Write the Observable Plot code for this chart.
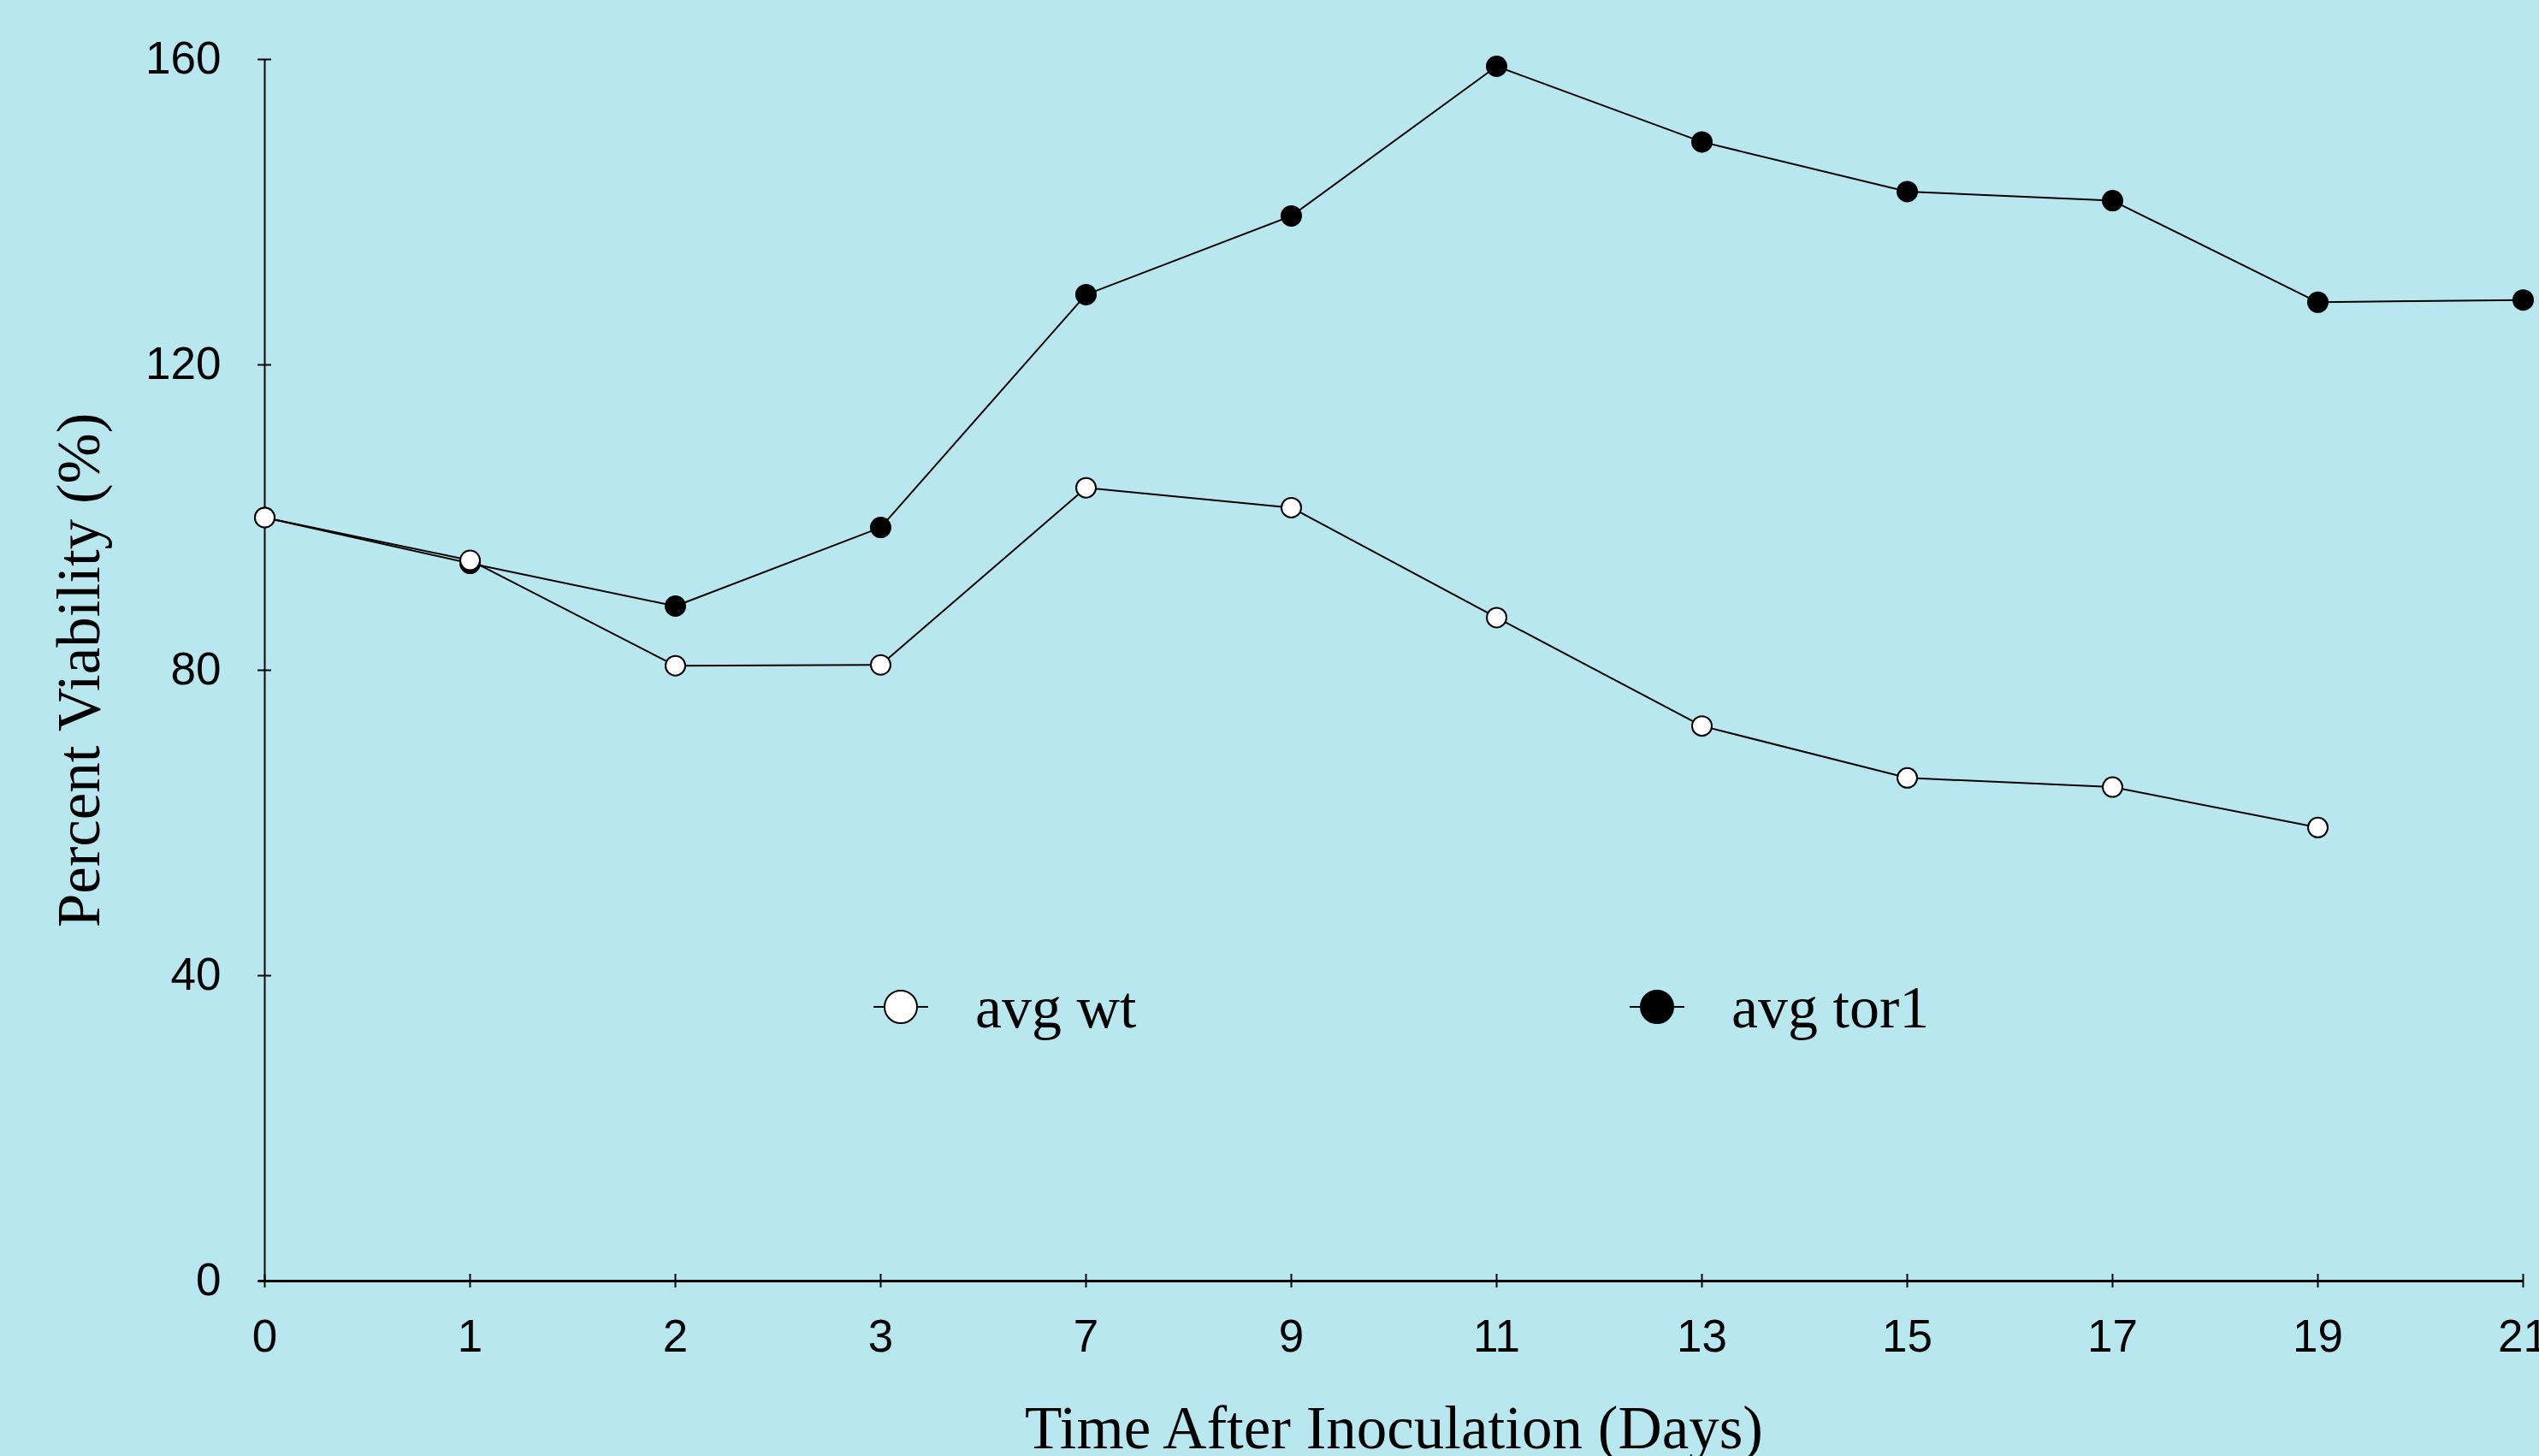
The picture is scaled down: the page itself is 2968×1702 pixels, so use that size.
<!DOCTYPE html>
<html>
<head>
<meta charset="utf-8">
<script src="https://cdn.jsdelivr.net/npm/d3@7"></script>
<script src="https://cdn.jsdelivr.net/npm/@observablehq/plot@0.6"></script>
<style>
  html, body { margin: 0; padding: 0; background: #b9e7ef; }
  #chart svg { display: block; }
</style>
</head>
<body>
<div id="chart"></div>
<script>
// ---- data ----
const days = ["0", "1", "2", "3", "7", "9", "11", "13", "15", "17", "19", "21"];
const wtValues = [100, 94.4, 80.6, 80.7, 103.9, 101.3, 86.9, 72.7, 65.9, 64.7, 59.4, null];
const tor1Values = [100, 94.0, 88.4, 98.7, 129.2, 139.5, 159.1, 149.2, 142.7, 141.5, 128.2, 128.5];
const yTicks = [0, 40, 80, 120, 160];
const seriesNames = ["avg wt", "avg tor1"];
const seriesFills = ["white", "black"];
const xTitle = "Time After Inoculation (Days)";
const yTitle = "Percent Viability (%)";

// ---- layout ----
const W = 2968, H = 1702;
const BG = "#b9e7ef";
const SANS = "Liberation Sans, Arial, Helvetica, sans-serif";
const SERIF = "Liberation Serif, Times New Roman, serif";
const legendLayout = { top: 1108, xs: [744, 1628], textGap: 87, half: 32, r: 19 };

const rows = [];
days.forEach((d, i) => {
  if (wtValues[i] != null) rows.push({ day: d, value: wtValues[i], series: seriesNames[0] });
  if (tor1Values[i] != null) rows.push({ day: d, value: tor1Values[i], series: seriesNames[1] });
});
const wtRows = rows.filter(r => r.series === seriesNames[0]);
const torRows = rows.filter(r => r.series === seriesNames[1]);

function legendMark(index, scales, values, dims) {
  const g = d3.create("svg:g");
  seriesNames.forEach((name, i) => {
    const cx = dims.marginLeft + legendLayout.xs[i];
    const cy = dims.marginTop + legendLayout.top;
    g.append("line")
      .attr("x1", cx - legendLayout.half).attr("x2", cx + legendLayout.half)
      .attr("y1", cy).attr("y2", cy)
      .attr("stroke", "black").attr("stroke-width", 2);
    g.append("circle")
      .attr("cx", cx).attr("cy", cy).attr("r", legendLayout.r)
      .attr("fill", seriesFills[i]).attr("stroke", "black").attr("stroke-width", 2);
    g.append("text")
      .attr("x", cx + legendLayout.textGap).attr("y", cy + 24)
      .attr("text-anchor", "start")
      .style("font-family", SERIF).style("font-size", "70px")
      .attr("fill", "black")
      .text(name);
  });
  return g.node();
}

const chart = Plot.plot({
  width: W,
  height: H,
  marginLeft: 309,
  marginRight: 19,
  marginTop: 69,
  marginBottom: 205,
  style: { background: BG, fontFamily: SANS, fontSize: "53px", color: "black", overflow: "visible" },
  x: { type: "point", domain: days, padding: 0 },
  y: { domain: [0, 160] },
  marks: [
    // axis lines
    Plot.ruleX([days[0]], { y1: 0, y2: 160, stroke: "black", strokeWidth: 2 }),
    Plot.ruleY([0], { stroke: "black", strokeWidth: 3, insetLeft: -7 }),
    // ticks crossing the axes
    Plot.axisY(yTicks, { tickSize: 16, dx: 8, tickFormat: () => "", strokeWidth: 2, label: null }),
    Plot.axisX(days, { tickSize: 16, dy: -8, tickFormat: () => "", strokeWidth: 2, label: null }),
    // tick labels
    Plot.axisY(yTicks, { tickSize: 0, tickPadding: 51, fontSize: 53, fontFamily: SANS, label: null }),
    Plot.axisX(days, { tickSize: 0, tickPadding: 45, fontSize: 53, fontFamily: SANS, label: null }),
    // titles
    Plot.text([yTitle], { text: d => d, frameAnchor: "left", dx: -194, rotate: -90, lineAnchor: "bottom", textAnchor: "middle", fontFamily: SERIF, fontSize: 71, fill: "black" }),
    Plot.text([xTitle], { text: d => d, frameAnchor: "bottom", dy: 195, lineAnchor: "bottom", textAnchor: "middle", fontFamily: SERIF, fontSize: 71, fill: "black" }),
    // series
    Plot.line(torRows, { x: "day", y: "value", stroke: "black", strokeWidth: 2 }),
    Plot.line(wtRows, { x: "day", y: "value", stroke: "black", strokeWidth: 2 }),
    Plot.dot(torRows, { x: "day", y: "value", r: 11.5, fill: "black", stroke: "black", strokeWidth: 2 }),
    Plot.dot(wtRows, { x: "day", y: "value", r: 11.5, fill: "white", stroke: "black", strokeWidth: 2 }),
    // legend
    legendMark
  ]
});
document.getElementById("chart").appendChild(chart);
</script>
</body>
</html>
